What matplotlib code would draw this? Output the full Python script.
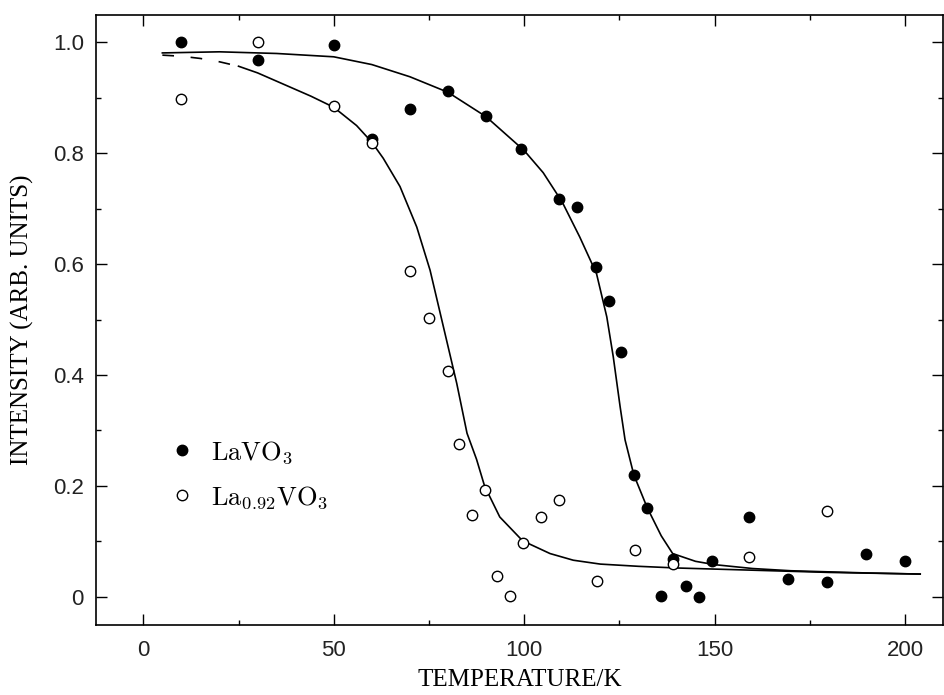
import matplotlib
matplotlib.use("Agg")
import matplotlib.pyplot as plt
from matplotlib.ticker import FixedLocator, MultipleLocator

plt.rcParams['mathtext.fontset'] = 'cm'

# ---- data ----
lavo3_T = [10, 30, 50, 60, 70, 80, 90, 99.3, 109.1, 114, 118.9, 122.2, 125.4,
           128.8, 132.3, 135.9, 139.1, 142.5, 145.9, 149.2, 159, 169.3, 179.6, 189.7, 200]
lavo3_I = [1.0, 0.968, 0.996, 0.825, 0.879, 0.913, 0.868, 0.807, 0.717, 0.703, 0.595, 0.533, 0.441,
           0.22, 0.161, 0.002, 0.068, 0.020, 0.0, 0.065, 0.144, 0.032, 0.027, 0.077, 0.065]

la092_T = [10, 30, 50, 60, 70, 75, 80, 83, 86.4, 89.6, 93, 96.4, 99.6, 104.4, 109.2,
           119, 129, 139, 159, 179.5]
la092_I = [0.897, 1.0, 0.885, 0.819, 0.588, 0.502, 0.407, 0.276, 0.147, 0.192, 0.037, 0.001, 0.097,
           0.144, 0.174, 0.029, 0.084, 0.059, 0.072, 0.155]

# fitted curves
fit1_T = [5, 20, 35, 50, 60, 70, 80, 90, 100, 105, 110, 114.6, 119, 121.7, 123.4, 125.2, 126.5,
          128.8, 132.3, 136, 139, 145, 150, 160, 170, 180, 190, 204]
fit1_I = [0.981, 0.983, 0.980, 0.974, 0.960, 0.938, 0.910, 0.866, 0.805, 0.765, 0.712, 0.649, 0.583,
          0.505, 0.433, 0.343, 0.283, 0.220, 0.161, 0.110, 0.078, 0.064, 0.058, 0.051, 0.047, 0.045,
          0.043, 0.041]

fit2_dash_T = [5, 10, 15, 20, 25]
fit2_dash_I = [0.977, 0.975, 0.971, 0.965, 0.957]

fit2_T = [25, 30, 35, 40, 44, 50, 56, 60, 63, 67.4, 71.8, 75.3, 78.8, 82.3, 85, 87.5, 89.6, 93.6,
          99.6, 106.8, 112.9, 120, 130, 140, 160, 180, 204]
fit2_I = [0.957, 0.945, 0.930, 0.915, 0.903, 0.883, 0.850, 0.820, 0.791, 0.740, 0.667, 0.589,
          0.487, 0.385, 0.295, 0.248, 0.200, 0.144, 0.101, 0.078, 0.066, 0.059, 0.055, 0.052,
          0.048, 0.044, 0.041]

x_ticks = [0, 50, 100, 150, 200]
x_ticklabels = ['0', '50', '100', '150', '200']
y_ticks = [0, 0.2, 0.4, 0.6, 0.8, 1.0]
y_ticklabels = ['0', '0.2', '0.4', '0.6', '0.8', '1.0']

series_labels = [r'$\mathrm{LaVO_3}$', r'$\mathrm{La_{0.92}VO_3}$']

# ---- figure ----
fig = plt.figure(figsize=(9.44, 6.95), dpi=100)
ax = fig.add_axes([0.1022, 0.1014, 0.8972, 0.8767])

ax.plot(fit1_T, fit1_I, color='black', lw=1.2, zorder=2)
ax.plot(fit2_dash_T, fit2_dash_I, color='black', lw=1.2, dashes=(7, 10), zorder=2)
ax.plot(fit2_T, fit2_I, color='black', lw=1.2, zorder=2)

h1, = ax.plot(lavo3_T, lavo3_I, 'o', color='black', ms=7.5, ls='none', zorder=3,
              label=series_labels[0])
h2, = ax.plot(la092_T, la092_I, 'o', mfc='white', mec='black', mew=1.0, ms=7.5, ls='none',
              zorder=4, label=series_labels[1])

ax.set_xlim(-12.3, 210.1)
ax.set_ylim(-0.050, 1.049)

ax.xaxis.set_major_locator(FixedLocator(x_ticks))
ax.set_xticklabels(x_ticklabels)
ax.xaxis.set_minor_locator(MultipleLocator(25))
ax.yaxis.set_major_locator(FixedLocator(y_ticks))
ax.set_yticklabels(y_ticklabels)
ax.yaxis.set_minor_locator(MultipleLocator(0.1))

for lab in ax.get_xticklabels() + ax.get_yticklabels():
    lab.set_fontfamily('Liberation Sans')
    lab.set_fontsize(16)
    lab.set_color('#222222')

ax.tick_params(which='both', direction='in', top=True, right=True, width=1.0, color='black')
ax.tick_params(which='major', length=8)
ax.tick_params(which='minor', length=3.5)
ax.tick_params(axis='x', which='major', pad=11)
ax.tick_params(axis='y', which='major', pad=9)

for s in ax.spines.values():
    s.set_linewidth(1.2)

ax.set_xlabel('TEMPERATURE/K', fontfamily='Liberation Serif', fontsize=18, labelpad=6)
ax.set_ylabel('INTENSITY (ARB. UNITS)', fontfamily='Liberation Serif', fontsize=18, labelpad=14)

ax.legend(handles=[h1, h2], loc='upper left', bbox_to_anchor=(0.079, 0.322),
          frameon=False, fontsize=19, handlelength=0.6, handletextpad=0.8,
          labelspacing=0.68, borderaxespad=0)

fig.savefig('out.png', dpi=100)
